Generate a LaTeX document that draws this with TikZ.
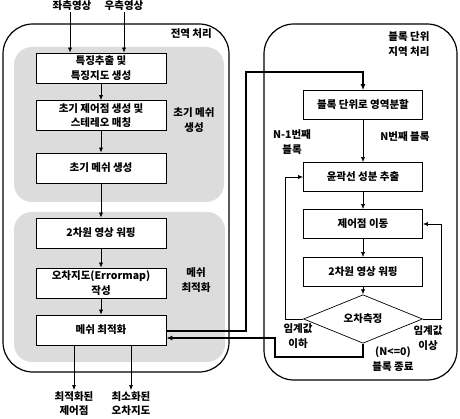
\documentclass[tikz,border=0pt]{standalone}
\usepackage{fontspec}
\setmainfont{Noto Sans CJK KR}
\usetikzlibrary{arrows.meta,shapes.geometric}
\definecolor{panelgray}{RGB}{220,220,220}
\begin{document}
\begin{tikzpicture}[x=1pt,y=-1pt,
  font=\fontsize{10.5}{14.5}\selectfont\bfseries,
  frame/.style={draw, line width=1.2pt, rounded corners=30pt},
  panel/.style={fill=panelgray, rounded corners=18pt},
  box/.style={draw, fill=white, line width=0.7pt, minimum width=130pt,
    minimum height=30pt, inner sep=0pt, align=center},
  rbox/.style={box, minimum width=119pt, minimum height=29pt},
  lbl/.style={align=center, inner sep=0pt},
  arr/.style={-{Latex[length=5pt,width=4pt]}, line width=0.6pt},
  tline/.style={-{Latex[length=6pt,width=5pt]}, line width=1.8pt}]
\useasboundingbox (0,0) rectangle (460,419);

% global processing frame and its two grey stages
\draw[frame] (3,24) rectangle (229,372);
\fill[panel] (14,47) rectangle (224,202);
\fill[panel] (14,212) rectangle (225,362);
\node[lbl, anchor=east] (glob) at (212,34) {전역 처리};

% block-wise local processing frame
\draw[frame] (264,24) rectangle (457,380);
\node[lbl] (loc) at (409,44) {블록 단위\\지역 처리};

% inputs
\node[lbl] (inL) at (72,6) {좌측영상};
\node[lbl] (inR) at (124,6) {우측영상};

% left chain
\node[box] (b1) at (101,68) {특징추출 및\\특징지도 생성};
\node[box] (b2) at (101,115.5) {초기 제어점 생성 및\\스테레오 매칭};
\node[box] (b3) at (101,168) {초기 메쉬 생성};
\node[box] (b4) at (101,233) {2차원 영상 워핑};
\node[box] (b5) at (101,283) {오차지도(Errormap)\\작성};
\node[box] (b6) at (101,330) {메쉬 최적화};

\node[lbl] (s1) at (194,120) {초기 메쉬\\생성};
\node[lbl] (s2) at (196,280) {메쉬\\최적화};

% outputs
\node[lbl, anchor=north] (out1) at (74,391) {최적화된\\제어점};
\node[lbl, anchor=north] (out2) at (131,391) {최소화된\\오차지도};

% right chain
\node[rbox] (r1) at (363,105) {블록 단위로 영역분할};
\node[rbox] (r2) at (363,177) {윤곽선 성분 추출};
\node[rbox] (r3) at (363,224) {제어점 이동};
\node[rbox] (r4) at (363,272) {2차원 영상 워핑};
\node[draw, fill=white, diamond, line width=0.7pt, minimum width=119pt,
      minimum height=32pt, inner sep=0pt] (dm) at (363,319) {오차측정};

\node[lbl] (nprev) at (292,142) {N-1번째\\블록};
\node[lbl] (ncur) at (405,137) {N번째 블록};
\node[lbl] (lo) at (298,336) {임계값\\이하};
\node[lbl] (hi) at (428,338) {임계값\\이상};
\node[lbl] (fin) at (393,359) {(N<=0)\\블록 종료};

\coordinate (lp) at (285,0);
\coordinate (rp) at (441,0);

% connectors, left
\draw[arr] ([xshift=-2pt,yshift=-1pt]inL.south) -- ([xshift=-2pt]inL.south |- b1.north);
\draw[arr] ([yshift=-1pt]inR.south) -- (inR.south |- b1.north);
\draw[arr] (b1) -- (b2);
\draw[arr] (b2) -- (b3);
\draw[arr] (b3) -- (b4);
\draw[arr] (b4) -- (b5);
\draw[arr] (b5) -- (b6);
\draw[arr] (b6.south -| out1.north) -- ([yshift=1pt]out1.north);
\draw[arr] (b6.south -| out2.north) -- ([yshift=1pt]out2.north);

% connectors, right
\draw[arr] (r1) -- (r2);
\draw[arr] (r2) -- (r3);
\draw[arr] (r3) -- (r4);
\draw[arr] (r4) -- (dm);
\draw[arr] (dm.west) -- (dm.west -| lp) |- (r2.west);
\draw[arr] (dm.east) -- (dm.east -| rp) |- (r3.east);

% links between the two stages
\draw[tline] ([yshift=-1pt]b6.east) -| (246,72) -| (r1.north);
\draw[tline] (dm.south) |- (275,357) |- ([yshift=-8pt]b6.east);
\end{tikzpicture}
\end{document}
